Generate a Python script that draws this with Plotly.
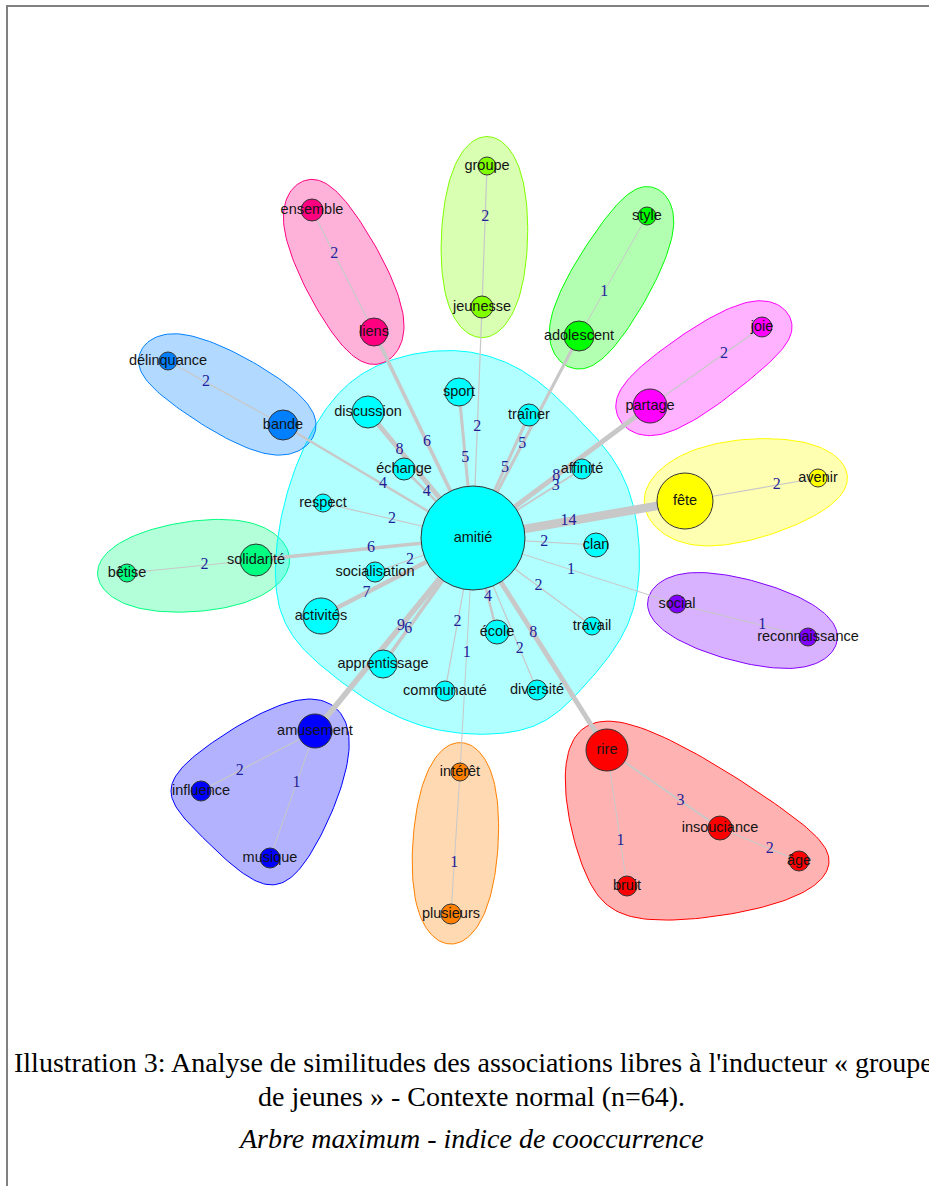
import numpy as np
import plotly.graph_objects as go

# ---------------- data ----------------
node_names = ["amitié", "sport", "discussion", "échange", "respect", "socialisation",
              "activités", "apprentissage", "communauté", "école", "diversité", "travail",
              "clan", "affinité", "traîner",
              "ensemble", "liens", "groupe", "jeunesse", "style", "adolescent",
              "joie", "partage", "fête", "avenir", "social", "reconnaissance",
              "rire", "insouciance", "âge", "bruit", "intérêt", "plusieurs",
              "amusement", "influence", "musique", "solidarité", "bêtise",
              "bande", "délinquance"]
node_x = [473, 459, 368, 404, 323, 375, 321, 383, 445, 497, 537, 592, 596, 582, 529,
          312, 374, 487, 482, 647, 579, 762, 650, 685, 818, 677, 808,
          607, 720, 799, 627, 460, 451, 315, 201, 270, 256, 127, 283, 168]
node_y = [538, 392, 412, 469, 503, 572, 616, 664, 691, 632, 690, 626, 545, 469, 415,
          210, 332, 166, 307, 216, 336, 327, 406, 501, 478, 604, 637,
          750, 828, 861, 886, 772, 914, 731, 791, 858, 560, 573, 425, 361]
node_size = [52, 14, 16, 11, 9, 10, 18, 14, 10, 12, 10, 9, 12, 10, 11,
             11, 14, 9, 11, 9, 15, 10, 17, 28, 9, 9, 9,
             21, 12, 10, 10, 9, 10, 17, 10, 10, 16, 9, 15, 9]
node_group = [6] * 15 + [11, 11, 3, 3, 4, 4, 10, 10, 2, 2, 9, 9,
                         0, 0, 0, 0, 1, 1, 8, 8, 8, 5, 5, 7, 7]

# rainbow(12)
group_colors = ["#FF0000", "#FF8000", "#FFFF00", "#80FF00", "#00FF00", "#00FF80",
                "#00FFFF", "#0080FF", "#0000FF", "#8000FF", "#FF00FF", "#FF0080"]

edge_src = ["liens", "sport", "jeunesse", "adolescent", "traîner", "discussion", "échange",
            "bande", "respect", "solidarité", "socialisation", "activités", "amusement",
            "apprentissage", "communauté", "intérêt", "école", "diversité", "rire",
            "travail", "social", "clan", "fête", "affinité", "partage",
            "ensemble", "groupe", "style", "joie", "avenir", "social", "rire",
            "insouciance", "rire", "amusement", "amusement", "intérêt", "délinquance", "bêtise"]
edge_dst = ["amitié"] * 25 + ["liens", "jeunesse", "adolescent", "partage", "fête",
                              "reconnaissance", "insouciance", "âge", "bruit", "influence",
                              "musique", "plusieurs", "bande", "solidarité"]
edge_weight = [6, 5, 2, 5, 5, 8, 4, 4, 2, 6, 2, 7, 9, 6, 2, 1, 4, 2, 8, 2, 1, 2, 14, 3, 8,
               2, 2, 1, 2, 2, 1, 3, 2, 1, 2, 1, 1, 2, 2]
# position of the weight label along the edge (fraction from source)
edge_label_pos = [0.535, 0.45, 0.52, 0.535, 0.43, 0.30, 0.33, 0.526, 0.46, 0.53, 0.357,
                  0.30, 0.544, 0.28, 0.45, 0.51, 0.375, 0.27, 0.55, 0.45, 0.52, 0.42,
                  0.55, 0.24, 0.53,
                  0.36, 0.36, 0.63, 0.34, 0.31, 0.65, 0.65, 0.63, 0.67, 0.66, 0.41,
                  0.64, 0.33, 0.60]

caption_1 = "Illustration 3: Analyse de similitudes des associations libres à l'inducteur « groupe"
caption_2 = "de jeunes » - Contexte normal (n=64)."
caption_3 = "Arbre maximum - indice de cooccurrence"

# ---------------- helpers ----------------
idx = {n: i for i, n in enumerate(node_names)}


def halo_pad(r):
    return 36 + 0.9 * r


def convex_hull(pts):
    pts = sorted(set(map(tuple, pts)))
    if len(pts) <= 2:
        return pts

    def cross(o, a, b):
        return (a[0] - o[0]) * (b[1] - o[1]) - (a[1] - o[1]) * (b[0] - o[0])

    lower = []
    for p in pts:
        while len(lower) >= 2 and cross(lower[-2], lower[-1], p) <= 0:
            lower.pop()
        lower.append(p)
    upper = []
    for p in reversed(pts):
        while len(upper) >= 2 and cross(upper[-2], upper[-1], p) <= 0:
            upper.pop()
        upper.append(p)
    return lower[:-1] + upper[:-1]


def closed_bspline(P, n=24):
    P = np.array(P, dtype=float)
    m = len(P)
    out = []
    for i in range(m):
        p0, p1, p2, p3 = P[(i - 1) % m], P[i], P[(i + 1) % m], P[(i + 2) % m]
        for t in np.linspace(0, 1, n, endpoint=False):
            b0 = (1 - t) ** 3 / 6
            b1 = (3 * t ** 3 - 6 * t ** 2 + 4) / 6
            b2 = (-3 * t ** 3 + 3 * t ** 2 + 3 * t + 1) / 6
            b3 = t ** 3 / 6
            out.append(b0 * p0 + b1 * p1 + b2 * p2 + b3 * p3)
    out.append(out[0])
    return np.array(out)


def rgba(hexc, a):
    h = hexc.lstrip("#")
    return "rgba(%d,%d,%d,%.2f)" % (int(h[0:2], 16), int(h[2:4], 16), int(h[4:6], 16), a)


fig = go.Figure()

# halos
for g, col in enumerate(group_colors):
    members = [i for i in range(len(node_names)) if node_group[i] == g]
    pts = []
    for i in members:
        x, y = node_x[i], node_y[i]
        d = halo_pad(node_size[i])
        pts += [(x - d, y), (x + d, y), (x, y - d), (x, y + d)]
    hull = convex_hull(pts)
    curve = closed_bspline(hull)
    fig.add_trace(go.Scatter(x=curve[:, 0], y=curve[:, 1], mode="lines", fill="toself",
                             fillcolor=rgba(col, 0.3), line=dict(color=col, width=1),
                             hoverinfo="skip", showlegend=False))

# edges
lab_x, lab_y = [], []
for s, d, w, t in zip(edge_src, edge_dst, edge_weight, edge_label_pos):
    x0, y0 = node_x[idx[s]], node_y[idx[s]]
    x1, y1 = node_x[idx[d]], node_y[idx[d]]
    fig.add_trace(go.Scatter(x=[x0, x1], y=[y0, y1], mode="lines",
                             line=dict(color="#C8C8C8", width=max(1.0, 0.62 * w)),
                             hoverinfo="skip", showlegend=False))
    lab_x.append(x0 + t * (x1 - x0))
    lab_y.append(y0 + t * (y1 - y0))

# nodes
fig.add_trace(go.Scatter(
    x=node_x, y=node_y, mode="markers",
    marker=dict(size=[2 * r for r in node_size], opacity=1,
                color=[group_colors[g] for g in node_group],
                line=dict(color="#333333", width=1)),
    hoverinfo="skip", showlegend=False))

# edge labels
fig.add_trace(go.Scatter(
    x=lab_x, y=lab_y, mode="text", text=[str(w) for w in edge_weight],
    textposition="middle center",
    textfont=dict(family="Liberation Serif, Times New Roman, serif", size=16, color="#1f1f99"),
    hoverinfo="skip", showlegend=False))

# node labels
fig.add_trace(go.Scatter(
    x=node_x, y=node_y, mode="text", text=node_names, textposition="middle center",
    textfont=dict(family="Liberation Sans, Arial, sans-serif", size=14.5, color="#141414"),
    hoverinfo="skip", showlegend=False))

# caption
fig.add_annotation(x=12, y=1062, text=caption_1, showarrow=False, xanchor="left", yanchor="middle",
                   font=dict(family="Liberation Serif, Times New Roman, serif", size=28, color="#000"))
fig.add_annotation(x=471, y=1096, text=caption_2, showarrow=False, xanchor="center", yanchor="middle",
                   font=dict(family="Liberation Serif, Times New Roman, serif", size=28, color="#000"))
fig.add_annotation(x=471, y=1138, text="<i>" + caption_3 + "</i>", showarrow=False,
                   xanchor="center", yanchor="middle",
                   font=dict(family="Liberation Serif, Times New Roman, serif", size=28, color="#000"))

# frame
fig.add_shape(type="line", x0=7, x1=7, y0=6, y1=1190, line=dict(color="#808080", width=2))
fig.add_shape(type="line", x0=6, x1=935, y0=6, y1=6, line=dict(color="#808080", width=2))

fig.update_layout(
    width=929, height=1186, margin=dict(l=0, r=0, t=0, b=0),
    paper_bgcolor="white", plot_bgcolor="white", showlegend=False,
    xaxis=dict(range=[0, 929], visible=False, fixedrange=True),
    yaxis=dict(range=[1186, 0], visible=False, fixedrange=True),
)

fig.write_html("out.html", config={"displayModeBar": False},
               post_script="document.body.style.margin='0';document.body.style.overflow='hidden';")
